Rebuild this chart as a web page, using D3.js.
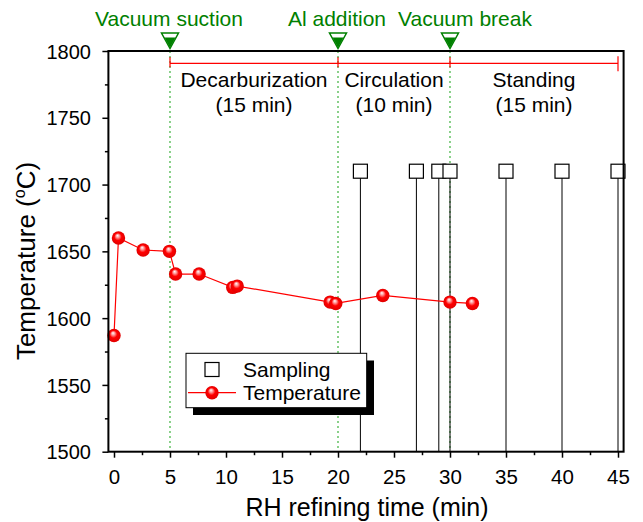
<!DOCTYPE html>
<html><head><meta charset="utf-8">
<script src="https://cdn.jsdelivr.net/npm/d3@7"></script>
<style>body{margin:0;background:#fff;} text{font-family:"Liberation Sans",Arial,sans-serif;}</style>
</head><body><svg id="c" width="643" height="522"></svg>
<script>
const tempTime = [0, 0.4, 2.6, 4.95, 5.5, 7.6, 10.6, 11.0, 19.3, 19.8, 24.0, 30.0, 32.0];
const tempValue = [1587, 1660, 1651, 1650, 1633, 1633, 1623, 1624, 1612, 1611, 1617, 1612, 1611];
const sampleTime = [22, 27, 29, 30, 35, 40, 45];
const sampleValue = [1710, 1710, 1710, 1710, 1710, 1710, 1710];
const eventTime = [5, 20, 30];
const eventLabels = ["Vacuum suction", "Al addition", "Vacuum break"];
const phaseStart = [5, 20, 30];
const phaseEnd = [20, 30, 45];
const phaseNames = ["Decarburization", "Circulation", "Standing"];
const phaseDur = ["(15 min)", "(10 min)", "(15 min)"];
const xTicks = [0,5,10,15,20,25,30,35,40,45];
const yTicks = [1500,1550,1600,1650,1700,1750,1800];

const svg = d3.select("#c");
const L=108.4, R=623.6, T=51, B=451.7;
const x = d3.scaleLinear().domain([-0.5,45.5]).range([L,R]);
const y = d3.scaleLinear().domain([1500,1800]).range([B,T]);

const defs = svg.append("defs");
const g = defs.append("radialGradient").attr("id","ball").attr("cx","0.5").attr("cy","0.5").attr("r","0.5").attr("fx","0.42").attr("fy","0.3");
g.append("stop").attr("offset","0").attr("stop-color","#fff");
g.append("stop").attr("offset","0.25").attr("stop-color","#ff9a9a");
g.append("stop").attr("offset","0.55").attr("stop-color","#ff0000");
g.append("stop").attr("offset","1").attr("stop-color","#e00000");

// green dotted lines
svg.selectAll(".evl").data(eventTime).join("line")
  .attr("x1",d=>x(d)).attr("x2",d=>x(d)).attr("y1",T).attr("y2",B)
  .attr("stroke","#4cb84c").attr("stroke-width",1.3).attr("stroke-dasharray","2,3");

// sampling drop lines
svg.selectAll(".sl").data(sampleTime).join("line")
  .attr("x1",d=>x(d)).attr("x2",d=>x(d)).attr("y1",(d,i)=>y(sampleValue[i])).attr("y2",B)
  .attr("stroke","#000").attr("stroke-width",1);
svg.selectAll(".sq").data(sampleTime).join("rect")
  .attr("x",d=>x(d)-7).attr("y",(d,i)=>y(sampleValue[i])-7).attr("width",14).attr("height",14)
  .attr("fill","#fff").attr("stroke","#000").attr("stroke-width",1.2);

// temperature line
const pts = tempTime.map((t,i)=>[t,tempValue[i]]);
svg.append("path").datum(pts).attr("fill","none").attr("stroke","#ff0000").attr("stroke-width",1.2)
  .attr("d", d3.line().x(d=>x(d[0])).y(d=>y(d[1])));
svg.selectAll(".tp").data(pts).join("circle")
  .attr("cx",d=>x(d[0])).attr("cy",d=>y(d[1])).attr("r",6.7).attr("fill","url(#ball)");

// phase bar
const barY = 63.3;
svg.append("line").attr("x1",x(phaseStart[0])).attr("x2",x(phaseEnd[phaseEnd.length-1])).attr("y1",barY).attr("y2",barY)
  .attr("stroke","#ff0000").attr("stroke-width",1.2);
svg.selectAll(".pt").data(phaseStart).join("line")
  .attr("x1",d=>x(d)).attr("x2",d=>x(d)).attr("y1",barY-6).attr("y2",barY+4)
  .attr("stroke","#ff0000").attr("stroke-width",1.2);
svg.append("line").attr("x1",x(phaseEnd[2])).attr("x2",x(phaseEnd[2])).attr("y1",barY-7).attr("y2",barY+8)
  .attr("stroke","#ff0000").attr("stroke-width",1.2);
phaseNames.forEach((n,i)=>{
  const cx = (x(phaseStart[i])+x(phaseEnd[i]))/2;
  svg.append("text").attr("x",cx).attr("y",87).attr("text-anchor","middle").attr("font-size",21).text(n);
  svg.append("text").attr("x",cx).attr("y",112).attr("text-anchor","middle").attr("font-size",21).text(phaseDur[i]);
});

// frame
svg.append("rect").attr("x",L).attr("y",T).attr("width",R-L).attr("height",B-T).attr("fill","none").attr("stroke","#000").attr("stroke-width",2);

// axes
const xAxis = d3.axisBottom(x).tickValues(xTicks).tickSize(6).tickFormat(d3.format("d"));
const gx = svg.append("g").attr("transform",`translate(0,${B})`).call(xAxis);
gx.select(".domain").remove();
gx.selectAll("line").attr("stroke-width",1.5);
gx.selectAll("text").attr("font-size",20.5).attr("y",32.5).attr("dy",0).attr("font-family","Liberation Sans, Arial, sans-serif");
const gxm = svg.append("g").attr("transform",`translate(0,${B})`)
  .call(d3.axisBottom(x).tickValues(xTicks.slice(0,-1).map(d=>d+2.5)).tickSize(3.5).tickFormat(""));
gxm.select(".domain").remove(); gxm.selectAll("line").attr("stroke-width",1.5);

const yAxis = d3.axisLeft(y).tickValues(yTicks).tickSize(6).tickFormat(d3.format("d"));
const gy = svg.append("g").attr("transform",`translate(${L},0)`).call(yAxis);
gy.select(".domain").remove();
gy.selectAll("line").attr("stroke-width",1.5);
gy.selectAll("text").attr("font-size",20).attr("x",-17.5).attr("dy","0.36em").attr("font-family","Liberation Sans, Arial, sans-serif");
const gym = svg.append("g").attr("transform",`translate(${L},0)`)
  .call(d3.axisLeft(y).tickValues(yTicks.slice(0,-1).map(d=>d+25)).tickSize(3.5).tickFormat(""));
gym.select(".domain").remove(); gym.selectAll("line").attr("stroke-width",1.5);

// event markers
eventTime.forEach((t,i)=>{
  const cx = x(t);
  const tri = `M${cx-8.5},33 L${cx+8.5},33 L${cx},48.5 Z`;
  svg.append("path").attr("d",`M${cx-5.5},37.5 L${cx+5.5},37.5 L${cx},48 Z`).attr("fill","#008000");
  svg.append("path").attr("d",tri).attr("fill","none").attr("stroke","#008000").attr("stroke-width",1.5);
});
const evCx = [169, 337, 465];
eventLabels.forEach((l,i)=>{
  svg.append("text").attr("x",evCx[i]).attr("y",26).attr("text-anchor","middle").attr("font-size",21).attr("fill","#008000").text(l);
});

// legend
svg.append("rect").attr("x",193).attr("y",360.5).attr("width",181).attr("height",54.5).attr("fill","#000");
svg.append("rect").attr("x",186).attr("y",353.3).attr("width",180.7).attr("height",54.4).attr("fill","#fff").attr("stroke","#000").attr("stroke-width",1);
svg.append("rect").attr("x",205).attr("y",362.5).attr("width",14).attr("height",14).attr("fill","#fff").attr("stroke","#000").attr("stroke-width",1.2);
svg.append("text").attr("x",243).attr("y",377).attr("font-size",21).text("Sampling");
svg.append("line").attr("x1",188).attr("x2",236).attr("y1",392.7).attr("y2",392.7).attr("stroke","#ff0000").attr("stroke-width",1.2);
svg.append("circle").attr("cx",212).attr("cy",392.7).attr("r",6.7).attr("fill","url(#ball)");
svg.append("text").attr("x",243).attr("y",400).attr("font-size",21).text("Temperature");

// axis titles
svg.append("text").attr("x",367).attr("y",516).attr("text-anchor","middle").attr("font-size",25).text("RH refining time (min)");
const yt = svg.append("text").attr("transform","translate(35,261) rotate(-90)").attr("text-anchor","middle").attr("font-size",26);
yt.append("tspan").text("Temperature (");
yt.append("tspan").attr("font-size",16).attr("dy",-10).text("o");
yt.append("tspan").attr("dy",10).text("C)");
</script></body></html>
